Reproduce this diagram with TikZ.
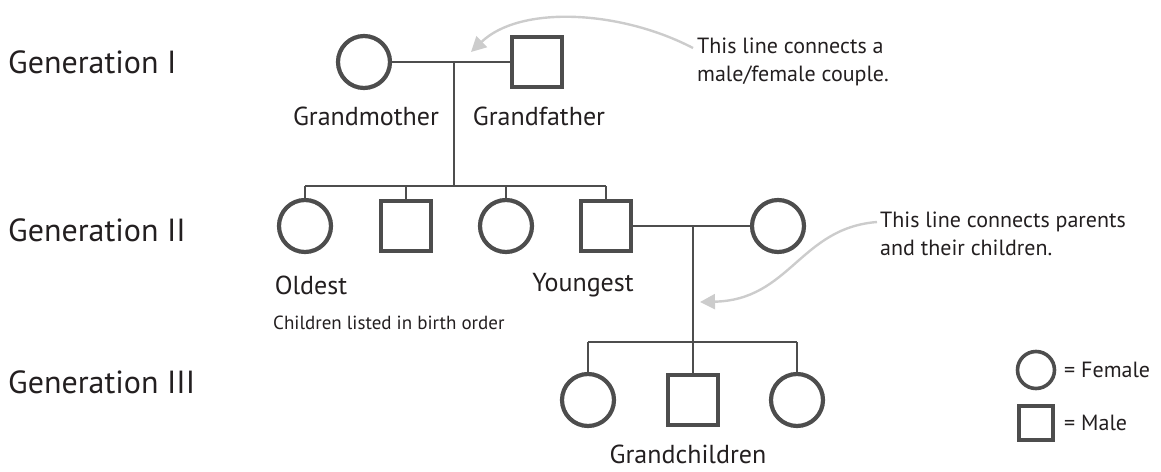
\documentclass[tikz,border=0pt]{standalone}
\usepackage{fontspec}
\setmainfont{PT Sans}
\usetikzlibrary{arrows.meta}
\definecolor{ink}{HTML}{4D4D4D}
\definecolor{txt}{HTML}{231F20}
\definecolor{note}{HTML}{CCCCCC}
\tikzset{
  fem/.style={circle, draw=ink, line width=4.2pt, minimum size=52pt, inner sep=0pt},
  mal/.style={rectangle, draw=ink, line width=4.8pt, minimum size=50pt, inner sep=0pt},
  lfem/.style={circle, draw=ink, line width=3.6pt, minimum size=37pt, inner sep=0pt},
  lmal/.style={rectangle, draw=ink, line width=4pt, minimum size=34pt, inner sep=0pt},
  link/.style={draw=ink, line width=2.6pt},
  gen/.style={anchor=west, text=txt, font=\fontsize{32}{38}\selectfont, inner sep=0pt},
  lbl/.style={text=txt, font=\fontsize{26}{31}\selectfont, inner sep=0pt},
  small/.style={text=txt, font=\fontsize{19}{24}\selectfont, inner sep=0pt},
  leg/.style={text=txt, font=\fontsize{22}{26}\selectfont, inner sep=0pt, anchor=west},
  anno/.style={anchor=north west, align=left, text=txt, font=\fontsize{22}{28}\selectfont, inner sep=0pt},
  pointer/.style={draw=note, line width=2.4pt, -{Triangle[length=15pt,width=15pt]}},
}
\begin{document}
\begin{tikzpicture}[x=1pt,y=-1pt]
\useasboundingbox (0,0) rectangle (1161,471);
% generation labels
\node[gen] (g1) at (8,62) {Generation I};
\node[gen] (g2) at (8,230) {Generation II};
\node[gen] (g3) at (8,382) {Generation III};
% generation I
\node[fem] (gm) at (364,62) {};
\node[mal] (gf) at (537,62) {};
\node[lbl] (lgm) at (366,116) {Grandmother};
\node[lbl] (lgf) at (539,116) {Grandfather};
\coordinate (c1) at (454,62);
\coordinate (s1) at (454,186);
\draw[link] (gm.east) -- (gf.west);
\draw[link] (c1) -- (s1);
% generation II
\node[fem] (k1) at (305,226) {};
\node[mal] (k2) at (406,226) {};
\node[fem] (k3) at (506,226) {};
\node[mal] (k4) at (606,226) {};
\node[fem] (sp) at (778,226) {};
\coordinate (s1l) at (305,186);
\coordinate (s1r) at (606,186);
\draw[link] (s1l) -- (s1r);
\draw[link] (s1l) -- (k1.north);
\draw[link] (k2.north |- s1l) -- (k2.north);
\draw[link] (k3.north |- s1l) -- (k3.north);
\draw[link] (s1r) -- (k4.north);
\node[lbl] (lold) at (311,285) {Oldest};
\node[lbl] (lyoung) at (583,285) {Youngest};
\node[small, anchor=west] (lorder) at (273,323) {Children listed in birth order};
\draw[link] (k4.east) -- (sp.west);
\coordinate (c2) at (693,226);
\coordinate (s2) at (693,342);
\draw[link] (c2) -- (s2);
% generation III
\node[fem] (h1) at (588,400) {};
\node[mal] (h2) at (693,400) {};
\node[fem] (h3) at (797,400) {};
\coordinate (s2l) at (588,342);
\coordinate (s2r) at (797,342);
\draw[link] (s2l) -- (s2r);
\draw[link] (s2l) -- (h1.north);
\draw[link] (s2) -- (h2.north);
\draw[link] (s2r) -- (h3.north);
\node[lbl] (lgc) at (688,454) {Grandchildren};
% annotations
\node[anno] (a1) at (697,38) {This line connects a\\male/female couple.};
\node[anno] (a2) at (880,212) {This line connects parents\\and their children.};
\coordinate (t1) at (471,52);
\coordinate (t2) at (700,302);
\draw[pointer] (a1.north west) ++(-4,10) .. controls (620,10) and (520,5) .. (t1);
\draw[pointer] (a2.north west) ++(-3,10) .. controls (800,228) and (790,300) .. (t2);
% legend
\node[lfem] (lf) at (1036,370) {};
\node[lmal] (lm) at (1036,423) {};
\node[leg] (tf) at (1064,370) {= Female};
\node[leg] (tm) at (1064,423) {= Male};
\end{tikzpicture}
\end{document}
